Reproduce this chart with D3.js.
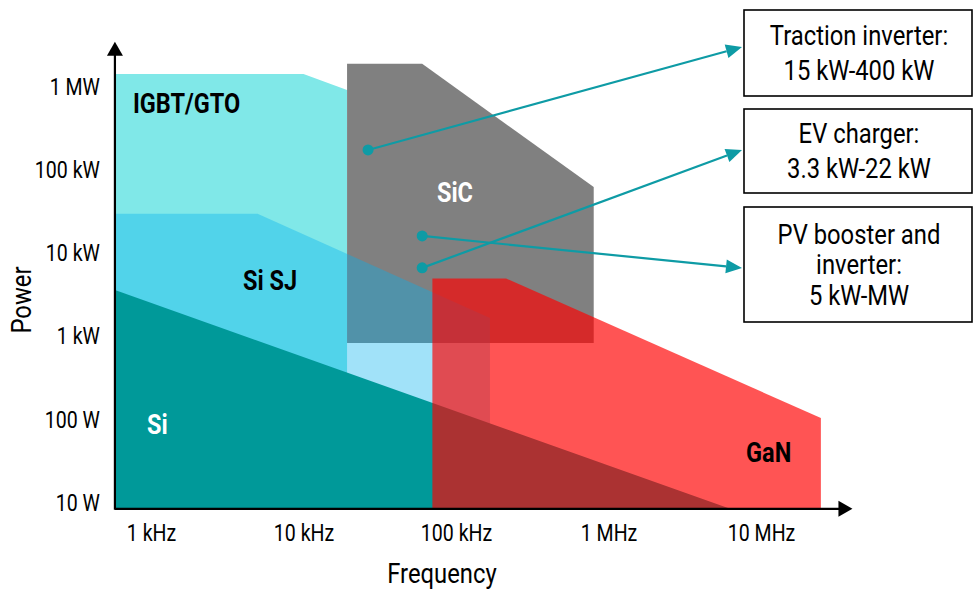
<!DOCTYPE html>
<html><head><meta charset="utf-8">
<script src="https://cdn.jsdelivr.net/npm/d3@7"></script>
<style>
html,body{margin:0;padding:0;background:#fff;}
svg{display:block;}
</style></head>
<body>
<svg id="chart" width="973" height="591"></svg>
<script>
// ---------- data ----------
const freqTicks = [1e3, 1e4, 1e5, 1e6, 1e7];
const freqTickLabels = ["1 kHz", "10 kHz", "100 kHz", "1 MHz", "10 MHz"];
const powerTicks = [10, 100, 1e3, 1e4, 1e5, 1e6];
const powerTickLabels = ["10 W", "100 W", "1 kW", "10 kW", "100 kW", "1 MW"];

const F_MIN = 580, F_MAX = 3.8e7;      // Hz, ends of the frequency axis
const P_MIN = 8.5, P_MAX = 3.5e6;      // W, ends of the power axis

// regions: [frequency Hz, power W]
const igbtRegion = [[F_MIN,1.43e6],[1.0e4,1.43e6],[1.93e4,9.2e5],[1.93e4,P_MIN],[F_MIN,P_MIN]];
const sicRegion  = [[1.93e4,1.9e6],[6.0e4,1.9e6],[8.0e5,6.28e4],[8.0e5,840],[1.93e4,840]];
const sisjRegion = [[F_MIN,3.0e4],[5.0e3,3.0e4],[1.67e5,1.67e3],[1.67e5,P_MIN],[F_MIN,P_MIN]];
const siRegion   = [[F_MIN,3.63e3],[6.27e6,P_MIN],[F_MIN,P_MIN]];
const ganRegion  = [[7.0e4,5.0e3],[2.13e5,5.0e3],[2.47e7,105],[2.47e7,P_MIN],[7.0e4,P_MIN]];

const regionNames  = ["IGBT/GTO", "SiC", "Si SJ", "Si", "GaN"];
const regionData   = [igbtRegion, sicRegion, sisjRegion, siRegion, ganRegion];
const regionColors = ["#80E8E8", "#808080", "#00B0F0", "#009999", "#FF0000"];
const regionOpacity= [1, 1, 0.37, 1, 0.67];
// label anchors [freq, power] (left/baseline)
const labelPos   = [[762, 4.87e5], [7.5e4, 4.15e4], [4.01e3, 3.63e3], [941, 67.5], [7.98e6, 31.1]];
const labelColor = ["#000", "#fff", "#000", "#fff", "#000"];

// application callouts
const appLines = [["Traction inverter:", "15 kW-400 kW"], ["EV charger:", "3.3 kW-22 kW"], ["PV booster and", "inverter:", "5 kW-MW"]];
const appPoints = [[2.65e4, 1.75e5], [6.0e4, 6.7e3], [6.0e4, 1.62e4]]; // traction, EV, PV

// ---------- layout ----------
const svg = d3.select("#chart");
const x = d3.scaleLog().domain([1e3, 1e7]).range([151, 761]);
const y = d3.scaleLog().domain([10, 1e6]).range([503, 87]);
const FONT = "Roboto, 'Liberation Sans', sans-serif";
const K = 0.85; // horizontal condensing of text

function condense(sel, k) {
  sel.each(function () {
    const L = this.getComputedTextLength();
    this.setAttribute("textLength", L * k);
    this.setAttribute("lengthAdjust", "spacingAndGlyphs");
  });
}

const line = d3.line().x(d => x(d[0])).y(d => y(d[1]));

svg.append("g").selectAll("path").data(regionData).join("path")
  .attr("d", d => line(d) + "Z")
  .attr("fill", (d,i) => regionColors[i])
  .attr("fill-opacity", (d,i) => regionOpacity[i]);

svg.append("g").selectAll("text").data(regionNames).join("text")
  .attr("x", (d,i) => x(labelPos[i][0]))
  .attr("y", (d,i) => y(labelPos[i][1]))
  .attr("fill", (d,i) => labelColor[i])
  .style("font-family", FONT).style("font-weight", "bold").style("font-size", "27px")
  .text(d => d)
  .call(condense, 0.87);

// axes labels
const xAxis = d3.axisBottom(x).tickValues(freqTicks).tickFormat((d,i) => freqTickLabels[i]).tickSize(0).tickPadding(16);
const gx = svg.append("g").attr("transform", `translate(0,${y(P_MIN)})`).call(xAxis);
gx.select(".domain").remove();
gx.selectAll("text").style("font-family", FONT).style("font-size", "23px").attr("fill", "#000").call(condense, K);

const yAxis = d3.axisLeft(y).tickValues(powerTicks).tickFormat((d,i) => powerTickLabels[i]).tickSize(0).tickPadding(15);
const gy = svg.append("g").attr("transform", `translate(${x(F_MIN)},0)`).call(yAxis);
gy.select(".domain").remove();
gy.selectAll("text").style("font-family", FONT).style("font-size", "23px").attr("fill", "#000").call(condense, K);

// axis lines with arrows
const x0 = x(F_MIN), y0 = y(P_MIN), x1 = x(F_MAX), y1 = y(P_MAX);
svg.append("line").attr("x1", x0).attr("y1", y0).attr("x2", x1 - 8).attr("y2", y0).attr("stroke", "#000").attr("stroke-width", 2.2);
svg.append("line").attr("x1", x0).attr("y1", y0 + 1).attr("x2", x0).attr("y2", y1 + 8).attr("stroke", "#000").attr("stroke-width", 2.2);
svg.append("path").attr("d", `M${x1+3},${y0} L${x1-11},${y0-8} L${x1-11},${y0+8} Z`).attr("fill", "#000");
svg.append("path").attr("d", `M${x0},${y1} L${x0-8},${y1+14} L${x0+8},${y1+14} Z`).attr("fill", "#000");

svg.append("text").attr("x", 442).attr("y", 583).attr("text-anchor", "middle")
  .style("font-family", FONT).style("font-size", "28px").text("Frequency").call(condense, K);
svg.append("text").attr("transform", "translate(31,300) rotate(-90)").attr("text-anchor", "middle")
  .style("font-family", FONT).style("font-size", "28px").text("Power").call(condense, K);

// callout boxes
const boxes = [{y:10,h:86,ls:35},{y:109,h:84,ls:35},{y:207,h:115,ls:30.5}];
const boxTargets = [47, 150, 268];
const BX = 744, BW = 228, TEAL = "#0E9BA5";
boxes.forEach((b,i) => {
  svg.append("rect").attr("x", BX).attr("y", b.y).attr("width", BW).attr("height", b.h)
    .attr("fill", "#fff").attr("stroke", "#000").attr("stroke-width", 1.6);
  const n = appLines[i].length;
  const cy = b.y + b.h/2;
  appLines[i].forEach((t,j) => {
    svg.append("text").attr("x", BX + BW/2 + 1).attr("y", cy + (j - (n-1)/2) * b.ls)
      .attr("dy", "0.35em").attr("text-anchor", "middle")
      .style("font-family", FONT).style("font-size", "28px").text(t).call(condense, K);
  });
});

// connector lines
appPoints.forEach((p,i) => {
  const sx = x(p[0]), sy = y(p[1]);
  const tx = BX - 2, ty = boxTargets[i];
  const ang = Math.atan2(ty - sy, tx - sx);
  const L = 16, W = 7;
  const bx = tx - L*Math.cos(ang), by = ty - L*Math.sin(ang);
  svg.append("line").attr("x1", sx).attr("y1", sy).attr("x2", bx).attr("y2", by)
    .attr("stroke", TEAL).attr("stroke-width", 2.2);
  svg.append("path").attr("d",
    `M${tx},${ty} L${bx - W*Math.sin(ang)},${by + W*Math.cos(ang)} L${bx + W*Math.sin(ang)},${by - W*Math.cos(ang)} Z`)
    .attr("fill", TEAL);
  svg.append("circle").attr("cx", sx).attr("cy", sy).attr("r", 5.5).attr("fill", TEAL);
});
</script>
</body></html>
